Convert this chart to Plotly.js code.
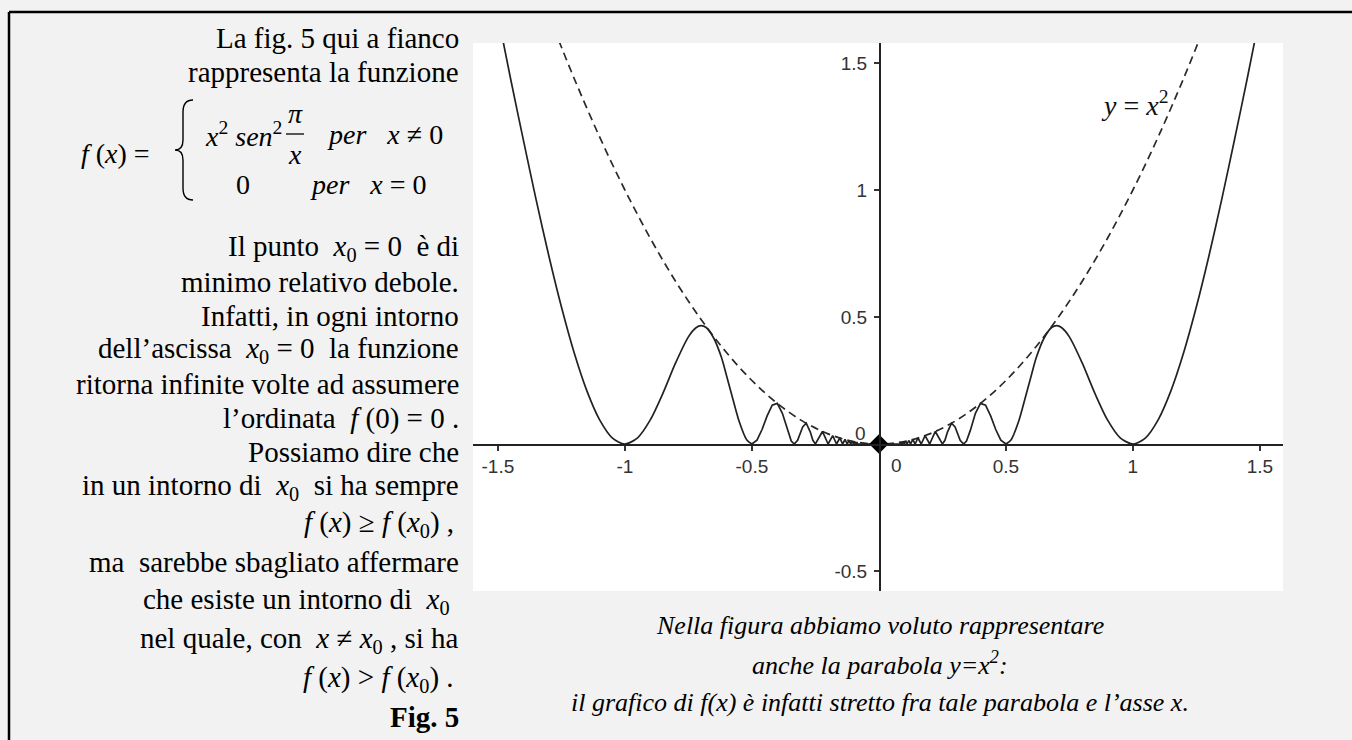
<!DOCTYPE html>
<html>
<head>
<meta charset="utf-8">
<script src="https://cdn.plot.ly/plotly-3.0.1.min.js"></script>
<style>
  html, body { margin: 0; padding: 0; background: #f2f2f2; }
  #fig5 { width: 1352px; height: 740px; }
</style>
</head>
<body>
<div id="fig5"></div>
<script>
// parabola y = x^2 (dashed)
var parX = [-1.26, -1.2, -1.1, -1.0, -0.9, -0.8, -0.7, -0.6, -0.5, -0.4, -0.3, -0.2, -0.1, 0,
            0.1, 0.2, 0.3, 0.4, 0.5, 0.6, 0.7, 0.8, 0.9, 1.0, 1.1, 1.2, 1.26];
var parY = [1.588, 1.44, 1.21, 1.0, 0.81, 0.64, 0.49, 0.36, 0.25, 0.16, 0.09, 0.04, 0.01, 0,
            0.01, 0.04, 0.09, 0.16, 0.25, 0.36, 0.49, 0.64, 0.81, 1.0, 1.21, 1.44, 1.588];

// f(x), big lobes (|x| >= 0.5) - smooth
var outerRightX = [0.5, 0.52, 0.55, 0.58, 0.6, 0.62, 0.65, 0.68, 0.7, 0.72, 0.75, 0.8, 0.85, 0.9, 0.95,
                   1.0, 1.05, 1.1, 1.15, 1.2, 1.25, 1.3, 1.35, 1.4, 1.45, 1.48];
var outerRightY = [0, 0.0155, 0.0884, 0.1961, 0.27, 0.3413, 0.4164, 0.4586, 0.4657, 0.4578, 0.4219, 0.32, 0.2002, 0.0948, 0.0245,
                   0, 0.0245, 0.096, 0.21, 0.36, 0.54, 0.743, 0.964, 1.198, 1.438, 1.588];
var outerLeftX = [-1.48, -1.45, -1.4, -1.35, -1.3, -1.25, -1.2, -1.15, -1.1, -1.05, -1.0,
                  -0.95, -0.9, -0.85, -0.8, -0.75, -0.72, -0.7, -0.68, -0.65, -0.62, -0.6, -0.58, -0.55, -0.52, -0.5];
var outerLeftY = [1.588, 1.438, 1.198, 0.964, 0.743, 0.54, 0.36, 0.21, 0.096, 0.0245, 0,
                  0.0245, 0.0948, 0.2002, 0.32, 0.4219, 0.4578, 0.4657, 0.4586, 0.4164, 0.3413, 0.27, 0.1961, 0.0884, 0.0155, 0];

// f(x), small oscillations near the origin - drawn as zigzag
var innerRightX = [0, 0.0833, 0.087, 0.0909, 0.0952, 0.1, 0.105, 0.1111, 0.1176, 0.125, 0.1333, 0.1429, 0.1538,
                   0.1667, 0.1818, 0.2, 0.2222, 0.25, 0.26, 0.27, 0.286, 0.3, 0.32, 0.3333, 0.345, 0.36,
                   0.38, 0.4, 0.42, 0.44, 0.46, 0.48, 0.5];
var innerRightY = [0, 0, 0.0076, 0, 0.0091, 0, 0.0111, 0, 0.0138, 0, 0.0178, 0, 0.0237,
                   0, 0.0331, 0, 0.0494, 0, 0.0146, 0.0469, 0.0818, 0.0675, 0.015, 0, 0.0117, 0.0536,
                   0.1211, 0.16, 0.1529, 0.1106, 0.0571, 0.0154, 0];
var innerLeftX = [-0.5, -0.48, -0.46, -0.44, -0.42, -0.4, -0.38, -0.36, -0.345, -0.3333, -0.32, -0.3, -0.286,
                  -0.27, -0.26, -0.25, -0.2222, -0.2, -0.1818, -0.1667, -0.1538, -0.1429, -0.1333, -0.125,
                  -0.1176, -0.1111, -0.105, -0.1, -0.0952, -0.0909, -0.087, -0.0833, 0];
var innerLeftY = [0, 0.0154, 0.0571, 0.1106, 0.1529, 0.16, 0.1211, 0.0536, 0.0117, 0, 0.015, 0.0675, 0.0818,
                  0.0469, 0.0146, 0, 0.0494, 0, 0.0331, 0, 0.0237, 0, 0.0178, 0,
                  0.0138, 0, 0.0111, 0, 0.0091, 0, 0.0076, 0, 0];

var originX = [0];
var originY = [0];

var xTickVals = [-1.5, -1, -0.5, 0.5, 1, 1.5];
var xTickText = ['-1.5', '-1', '-0.5', '0.5', '1', '1.5'];
var yTickVals = [-0.5, 0.5, 1, 1.5];
var yTickText = ['-0.5', '0.5', '1', '1.5'];

var W = 1352, H = 740;
function px(x) { return x / W; }
function py(y) { return 1 - y / H; }

function curveLine(shape) {
  return { color: '#222', width: 1.7, shape: shape, smoothing: 0.8 };
}
var data = [
  { x: parX, y: parY, mode: 'lines', line: { color: '#2a2a2a', width: 1.7, dash: '8px,5px', shape: 'spline' } },
  { x: outerLeftX, y: outerLeftY, mode: 'lines', line: curveLine('spline') },
  { x: outerRightX, y: outerRightY, mode: 'lines', line: curveLine('spline') },
  { x: innerLeftX, y: innerLeftY, mode: 'lines', line: curveLine('linear') },
  { x: innerRightX, y: innerRightY, mode: 'lines', line: curveLine('linear') },
  { x: originX, y: originY, mode: 'markers', marker: { symbol: 'diamond', size: 15, color: '#000' } }
];

var serif = 'Liberation Serif, Times New Roman, serif';
var sansFamily = 'Liberation Sans, Arial, sans-serif';
function font(family, size, color) {
  return { family: family, size: size, color: color || '#000' };
}
function note(text, x, y, anchor, f) {
  return { text: text, x: px(x), y: py(y), xref: 'paper', yref: 'paper', xanchor: anchor || 'right',
           yanchor: 'middle', showarrow: false, font: f || font(serif, 29) };
}
var X0 = '<i>x</i><sub>0</sub>';
var annotations = [
  note('La fig. 5 qui a fianco', 461, 38),
  note('rappresenta la funzione', 461, 72),
  note('<i>f</i> (<i>x</i>) =', 152, 153, 'right', font(serif, 28)),
  note('<i>x</i><sup>2</sup>&nbsp;<i>sen</i><sup>2</sup>', 284, 134, 'right', font(serif, 28)),
  note('<i>π</i>', 295, 113, 'center', font(serif, 28)),
  note('<i>x</i>', 295, 155, 'center', font(serif, 28)),
  note('<i>per</i>&nbsp;&nbsp; <i>x</i> ≠ 0', 445, 134, 'right', font(serif, 28)),
  note('0', 243, 184, 'center', font(serif, 28)),
  note('<i>per</i>&nbsp;&nbsp; <i>x</i> = 0', 429, 184, 'right', font(serif, 28)),
  note('Il punto&nbsp; ' + X0 + ' = 0&nbsp; è di', 461, 248),
  note('minimo relativo debole.', 461, 282),
  note('Infatti, in ogni intorno', 461, 316),
  note('dell’ascissa&nbsp; ' + X0 + ' = 0&nbsp; la funzione', 461, 350),
  note('ritorna infinite volte ad assumere', 461, 384),
  note('l’ordinata&nbsp; <i>f</i> (0) = 0 .', 461, 418),
  note('Possiamo dire che', 461, 452),
  note('in un intorno di&nbsp; ' + X0 + '&nbsp; si ha sempre', 461, 487),
  note('<i>f</i> (<i>x</i>) ≥ <i>f</i> (' + X0 + ') ,', 456, 524),
  note('ma&nbsp; sarebbe sbagliato affermare', 461, 562),
  note('che esiste un intorno di&nbsp; ' + X0, 452, 601),
  note('nel quale, con&nbsp; <i>x</i> ≠ ' + X0 + ' , si ha', 461, 640),
  note('<i>f</i> (<i>x</i>) > <i>f</i> (' + X0 + ') .', 456, 679),
  note('<b>Fig. 5</b>', 461, 717),
  // chart texts
  note('<i>y</i> = <i>x</i><sup>2</sup>', 1170, 103, 'right', font(serif, 28, '#111')),
  note('0', 868, 433, 'right', font(sansFamily, 19, '#333')),
  note('0', 889, 465, 'left', font(sansFamily, 19, '#333')),
  note('<i>Nella figura abbiamo voluto rappresentare</i>', 880, 625, 'center', font(serif, 26)),
  note('<i>anche la parabola y=x<sup>2</sup>:</i>', 880, 663, 'center', font(serif, 26)),
  note('<i>il grafico di f(x) è infatti stretto fra tale parabola e l’asse x.</i>', 880, 702, 'center', font(serif, 26))
];

// curly brace of the piecewise definition, in pixels
var b = [[193, 100], [183, 112], [183, 140], [175, 150], [183, 160], [183, 188], [193, 200]];
var bracePath = 'M' + px(b[0][0]) + ',' + py(b[0][1]) +
  ' Q' + px(183) + ',' + py(100) + ' ' + px(b[1][0]) + ',' + py(b[1][1]) +
  ' L' + px(b[2][0]) + ',' + py(b[2][1]) +
  ' Q' + px(183) + ',' + py(150) + ' ' + px(b[3][0]) + ',' + py(b[3][1]) +
  ' Q' + px(183) + ',' + py(150) + ' ' + px(b[4][0]) + ',' + py(b[4][1]) +
  ' L' + px(b[5][0]) + ',' + py(b[5][1]) +
  ' Q' + px(183) + ',' + py(200) + ' ' + px(b[6][0]) + ',' + py(b[6][1]);

var shapes = [
  // page frame
  { type: 'line', xref: 'paper', yref: 'paper', x0: px(9), y0: py(12), x1: px(1352), y1: py(12), line: { color: '#000', width: 2.5 } },
  { type: 'line', xref: 'paper', yref: 'paper', x0: px(9), y0: py(12), x1: px(9), y1: py(740), line: { color: '#000', width: 2.5 } },
  // fraction bar pi / x
  { type: 'line', xref: 'paper', yref: 'paper', x0: px(286), y0: py(134), x1: px(304), y1: py(134), line: { color: '#000', width: 1.3 } },
  { type: 'path', xref: 'paper', yref: 'paper', path: bracePath, line: { color: '#000', width: 1.4 } }
];

var layout = {
  width: W, height: H,
  margin: { l: 0, r: 0, t: 0, b: 0 },
  paper_bgcolor: '#f2f2f2',
  plot_bgcolor: '#ffffff',
  showlegend: false,
  xaxis: {
    domain: [px(473), px(1283)],
    range: [-1.598, 1.591],
    anchor: 'free', position: py(444),
    showgrid: false, zeroline: false,
    showline: true, linecolor: '#222', linewidth: 1.6,
    ticks: 'outside', ticklen: 5, tickwidth: 1.4, tickcolor: '#333',
    tickmode: 'array', tickvals: xTickVals, ticktext: xTickText,
    tickfont: font(sansFamily, 19, '#333')
  },
  yaxis: {
    domain: [py(591), py(43)],
    range: [-0.5787, 1.5787],
    anchor: 'free', position: px(879),
    showgrid: false, zeroline: false,
    showline: true, linecolor: '#222', linewidth: 1.6,
    ticks: 'outside', ticklen: 5, tickwidth: 1.4, tickcolor: '#333',
    ticklabelstandoff: 3,
    tickmode: 'array', tickvals: yTickVals, ticktext: yTickText,
    tickfont: font(sansFamily, 19, '#333')
  },
  annotations: annotations,
  shapes: shapes
};

Plotly.newPlot('fig5', data, layout, { staticPlot: true, displayModeBar: false });
</script>
</body>
</html>
